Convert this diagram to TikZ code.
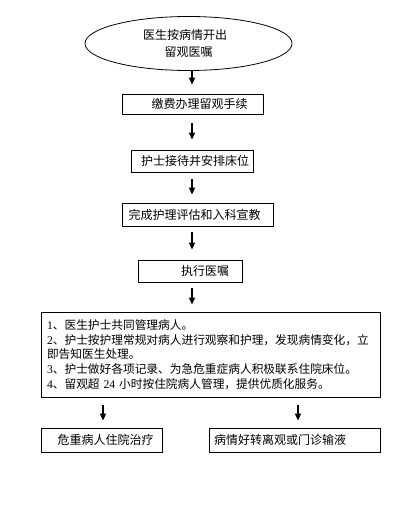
\documentclass[tikz,border=0pt]{standalone}
\usepackage{fontspec}
\setmainfont{Liberation Serif}
\newfontfamily\cjk{Noto Sans CJK SC}
\newcommand\numtxt[1]{{\rmfamily #1}}
\usetikzlibrary{shapes.geometric,arrows.meta}
\begin{document}
\begin{tikzpicture}[x=1pt,y=-1pt,
  box/.style={draw,line width=0.8pt,inner sep=0pt,font=\cjk\fontsize{12}{14}\selectfont},
  arr/.style={-{Triangle[length=7pt,width=6pt]},line width=1.6pt,shorten <=7pt,shorten >=8pt}]
\useasboundingbox (0,0) rectangle (403,529);
\coordinate (axis) at (192,0);
\node[draw,ellipse,line width=0.8pt,minimum width=207pt,minimum height=54pt,inner sep=0pt,align=center,
  font=\cjk\fontsize{12}{17}\selectfont] (start) at (188.5,43.5) {医生按病情开出\hspace*{7pt}\\留观医嘱};
\node[box,minimum width=141pt,minimum height=20pt] (b1) at (192.5,104) {\hspace*{14pt}缴费办理留观手续};
\node[box,minimum width=122pt,minimum height=22pt] (b2) at (192,161) {\hspace*{6pt}护士接待并安排床位};
\node[box,minimum width=151pt,minimum height=23pt] (b3) at (197.5,214.5) {完成护理评估和入科宣教\hspace*{6pt}};
\node[box,minimum width=104pt,minimum height=22pt] (b4) at (190,271) {\hspace*{30pt}执行医嘱};
\node[box,text width=327pt,inner xsep=6pt,minimum height=85pt,align=left,
  font=\cjk\fontsize{11.7}{14.75}\selectfont] (big) at (210.5,354.5) {%
\numtxt{1}、医生护士共同管理病人。\\
\numtxt{2}、护士按护理常规对病人进行观察和护理，发现病情变化，立\\
即告知医生处理。\\
\numtxt{3}、护士做好各项记录、为急危重症病人积极联系住院床位。\\
\numtxt{4}、留观超 \numtxt{24} 小时按住院病人管理，提供优质化服务。};
\node[box,minimum width=121pt,minimum height=24pt] (left) at (101.5,440) {\hspace*{8pt}危重病人住院治疗};
\node[box,minimum width=171pt,minimum height=24pt] (right) at (294.5,440) {病情好转离观或门诊输液\hspace*{29pt}};
\draw[arr,shorten <=0pt,shorten >=9pt] (start.south -| axis) -- (b1.north -| axis);
\draw[arr,shorten <=9pt,shorten >=10pt] (b1.south -| axis) -- (b2.north -| axis);
\draw[arr] (b2.south -| axis) -- (b3.north -| axis);
\draw[arr,shorten <=6pt,shorten >=10pt] (b3.south -| axis) -- (b4.north -| axis);
\draw[arr,shorten <=6pt,shorten >=7pt] (b4.south -| axis) -- (big.north -| axis);
\coordinate (lx) at (103,0);
\coordinate (rx) at (298,0);
\draw[arr,shorten <=8pt,shorten >=7pt] (big.south -| lx) -- (left.north -| lx);
\draw[arr,shorten <=8pt,shorten >=7pt] (big.south -| rx) -- (right.north -| rx);
\end{tikzpicture}
\end{document}
